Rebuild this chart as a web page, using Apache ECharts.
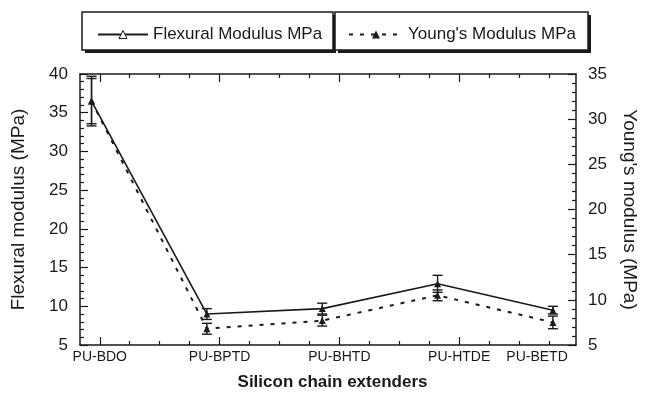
<!DOCTYPE html>
<html>
<head>
<meta charset="utf-8">
<style>
  html, body { margin: 0; padding: 0; background: #fff; }
  #main { width: 647px; height: 396px; }
</style>
<script src="https://cdn.jsdelivr.net/npm/echarts@6/dist/echarts.min.js"></script>
</head>
<body>
<div id="main"></div>
<script>
// 数据
var categories = ['PU-BDO', 'PU-BPTD', 'PU-BHTD', 'PU-HTDE', 'PU-BETD'];
var flexural = [36.5, 9.0, 9.7, 12.9, 9.5];
var flexuralErr = [3.2, 0.7, 0.7, 1.1, 0.5];
var young = [32.0, 6.8, 7.7, 10.5, 7.5];
var youngErr = [2.5, 0.6, 0.6, 0.6, 0.7];
// x 轴刻度 (刻度轴单位)
var labelTicks = [0, 1, 2, 3, 3.65];
var majorTicks = [0, 1, 2, 3];
var minorTicks = [0.25, 0.5, 0.75, 1.25, 1.5, 1.75, 2.25, 2.5, 2.75, 3.25, 3.5, 3.75];

var FONT = '"Liberation Sans", Arial, Helvetica, sans-serif';
var INK = '#1a1a1a';

function pairs(vals) {
    return vals.map(function (v, i) { return [i, v]; });
}

// 误差棒
function errorBars(name, vals, errs, yIdx) {
    return {
        name: name,
        type: 'custom',
        xAxisIndex: 0,
        yAxisIndex: yIdx,
        z: 3,
        data: vals.map(function (v, i) { return [i, v - errs[i], v + errs[i]]; }),
        renderItem: function (params, api) {
            var lo = api.coord([api.value(0), api.value(1)]);
            var hi = api.coord([api.value(0), api.value(2)]);
            var w = 5;
            var st = { stroke: INK, lineWidth: 1.4 };
            return {
                type: 'group',
                children: [
                    { type: 'line', shape: { x1: lo[0], y1: lo[1], x2: hi[0], y2: hi[1] }, style: st },
                    { type: 'line', shape: { x1: lo[0] - w, y1: lo[1], x2: lo[0] + w, y2: lo[1] }, style: st },
                    { type: 'line', shape: { x1: hi[0] - w, y1: hi[1], x2: hi[0] + w, y2: hi[1] }, style: st }
                ]
            };
        }
    };
}

function tickAxis(pos, values, len, showLine) {
    return {
        type: 'value',
        position: pos,
        min: -0.165,
        max: 3.975,
        axisLine: { show: showLine, onZero: false, lineStyle: { color: INK, width: 1.5 } },
        axisTick: { show: true, inside: true, length: len, customValues: values, lineStyle: { color: INK, width: 1.2 } },
        axisLabel: { show: false },
        splitLine: { show: false }
    };
}

// 图例框 (带阴影)
function legendBox(x, w) {
    return [
        { type: 'rect', z: 0, shape: { x: x + 3, y: 15, width: w, height: 38 }, style: { fill: INK } },
        { type: 'rect', z: 1, shape: { x: x, y: 12, width: w, height: 38 }, style: { fill: '#fff', stroke: INK, lineWidth: 1.5 } }
    ];
}

var myChart = echarts.init(document.getElementById('main'));

var bottomAxis = tickAxis('bottom', majorTicks, 8, true);
bottomAxis.axisLabel = {
    show: true,
    customValues: labelTicks,
    margin: 5,
    fontSize: 14,
    fontFamily: FONT,
    color: INK,
    formatter: function (v) {
        var best = 0;
        for (var i = 0; i < labelTicks.length; i++) {
            if (Math.abs(labelTicks[i] - v) < Math.abs(labelTicks[best] - v)) best = i;
        }
        return categories[best];
    }
};
bottomAxis.name = 'Silicon chain extenders';
bottomAxis.nameLocation = 'middle';
bottomAxis.nameGap = 29;
bottomAxis.nameTextStyle = { fontSize: 17, fontWeight: 'bold', fontFamily: FONT, color: INK, padding: [0, 0, 0, 9] };

myChart.setOption({
    animation: false,
    backgroundColor: '#fff',
    textStyle: { fontFamily: FONT },
    grid: { left: 80, right: 66, top: 74, bottom: 48 },
    graphic: legendBox(82, 251).concat(legendBox(335, 253)),
    legend: [
        {
            z: 10,
            left: 92, top: 21,
            itemWidth: 50, itemHeight: 10,
            textStyle: { fontSize: 17, fontFamily: FONT, color: INK },
            data: [{ name: 'Flexural Modulus MPa', itemStyle: { color: '#fff', borderColor: INK, borderWidth: 1 } }]
        },
        {
            z: 10,
            left: 343, top: 21,
            itemWidth: 54, itemHeight: 10,
            textStyle: { fontSize: 17, fontFamily: FONT, color: INK },
            data: ["Young's Modulus MPa"]
        }
    ],
    xAxis: [
        { type: 'value', min: -0.1, max: 4.2, show: false },
        bottomAxis,
        tickAxis('bottom', minorTicks, 4, false),
        tickAxis('top', majorTicks, 8, true),
        tickAxis('top', minorTicks, 4, false)
    ],
    yAxis: [
        {
            type: 'value', position: 'left', min: 5, max: 40, interval: 5,
            name: 'Flexural modulus (MPa)', nameLocation: 'middle', nameGap: 52,
            nameTextStyle: { fontSize: 19, fontFamily: FONT, color: INK },
            axisLine: { show: true, onZero: false, lineStyle: { color: INK, width: 1.5 } },
            axisTick: { inside: true, length: 8, lineStyle: { color: INK, width: 1.2 } },
            minorTick: { show: true, splitNumber: 5, length: 4, lineStyle: { color: INK, width: 1.2 } },
            axisLabel: { fontSize: 17, fontFamily: FONT, color: INK, margin: 12 },
            splitLine: { show: false }
        },
        {
            type: 'value', position: 'right', min: 5, max: 35, interval: 5,
            name: "Young's modulus (MPa)", nameLocation: 'middle', nameGap: 44, nameRotate: -90,
            nameTextStyle: { fontSize: 19, fontFamily: FONT, color: INK },
            axisLine: { show: true, onZero: false, lineStyle: { color: INK, width: 1.5 } },
            axisTick: { inside: true, length: 8, lineStyle: { color: INK, width: 1.2 } },
            minorTick: { show: true, splitNumber: 5, length: 4, lineStyle: { color: INK, width: 1.2 } },
            axisLabel: { fontSize: 17, fontFamily: FONT, color: INK, margin: 12 },
            splitLine: { show: false }
        }
    ],
    series: [
        {
            name: 'Flexural Modulus MPa',
            type: 'line',
            xAxisIndex: 0, yAxisIndex: 0,
            data: pairs(flexural),
            symbol: 'triangle', symbolSize: 7,
            color: INK,
            itemStyle: { color: INK },
            lineStyle: { color: INK, width: 1.6 },
            z: 4
        },
        {
            name: "Young's Modulus MPa",
            type: 'line',
            xAxisIndex: 0, yAxisIndex: 1,
            data: pairs(young),
            symbol: 'triangle', symbolSize: 7,
            color: INK,
            itemStyle: { color: INK },
            lineStyle: { color: INK, width: 2, type: [4, 7] },
            z: 4
        },
        errorBars('flexErr', flexural, flexuralErr, 0),
        errorBars('youngErr', young, youngErr, 1)
    ]
});
</script>
</body>
</html>
